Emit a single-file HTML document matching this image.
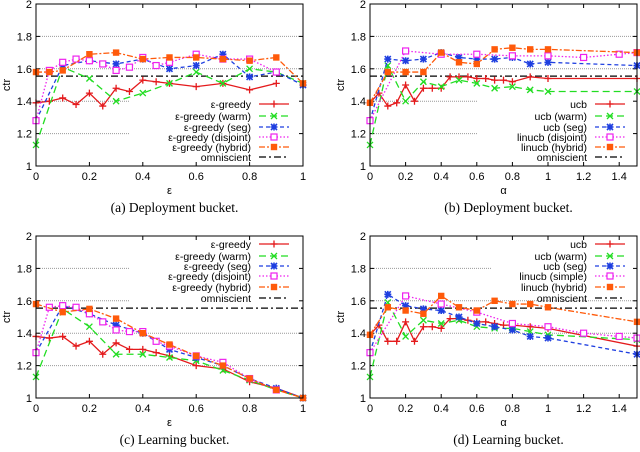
<!DOCTYPE html>
<html><head><meta charset="utf-8"><style>
body{margin:0;background:#fff;}
svg text{font-family:"Liberation Sans",sans-serif;}
svg text.cap{font-family:"Liberation Serif",serif;}
</style></head><body>
<svg id="fig" width="640" height="447" viewBox="0 0 640 447" xmlns="http://www.w3.org/2000/svg"></svg>
<script>
const yTicks=[1,1.2,1.4,1.6,1.8,2];
const yTickLabels=["1","1.2","1.4","1.6","1.8","2"];
const epsTicks=[0,0.2,0.4,0.6,0.8,1];
const epsTickLabels=["0","0.2","0.4","0.6","0.8","1"];
const alphaTicks=[0,0.2,0.4,0.6,0.8,1,1.2,1.4];
const alphaTickLabels=["0","0.2","0.4","0.6","0.8","1","1.2","1.4"];
const omniscient=1.555;

// Panel a
const aGreedyX=[0,0.05,0.1,0.15,0.2,0.25,0.3,0.35,0.4,0.45,0.5,0.6,0.7,0.8,0.9];
const aGreedyY=[1.39,1.40,1.42,1.38,1.45,1.37,1.48,1.46,1.53,1.52,1.51,1.49,1.51,1.47,1.51];
const aWarmX=[0,0.1,0.2,0.3,0.4,0.5,0.6,0.7,0.8,0.9,1];
const aWarmY=[1.13,1.61,1.54,1.40,1.45,1.51,1.58,1.51,1.60,1.58,1.51];
const aSegX=[0,0.1,0.2,0.3,0.4,0.5,0.6,0.7,0.8,0.9,1];
const aSegY=[1.28,1.62,1.65,1.63,1.66,1.60,1.62,1.69,1.55,1.58,1.50];
const aDisX=[0,0.05,0.1,0.15,0.2,0.25,0.3,0.35,0.4,0.45,0.5,0.6,0.7,0.8,0.9];
const aDisY=[1.28,1.59,1.64,1.66,1.65,1.63,1.59,1.61,1.67,1.62,1.64,1.69,1.66,1.66,1.58];
const aHybX=[0,0.05,0.1,0.2,0.3,0.4,0.5,0.6,0.7,0.8,0.9,1];
const aHybY=[1.58,1.58,1.59,1.69,1.70,1.66,1.67,1.67,1.66,1.65,1.67,1.51];
// Panel b
const bUcbX=[0,0.05,0.1,0.15,0.2,0.25,0.3,0.35,0.4,0.45,0.5,0.55,0.6,0.65,0.7,0.75,0.8,0.9,1,1.5];
const bUcbY=[1.39,1.45,1.37,1.39,1.50,1.40,1.48,1.48,1.48,1.55,1.55,1.55,1.54,1.54,1.53,1.53,1.52,1.55,1.54,1.54];
const bWarmX=[0,0.1,0.2,0.3,0.4,0.5,0.6,0.7,0.8,0.9,1,1.5];
const bWarmY=[1.13,1.62,1.40,1.52,1.49,1.53,1.51,1.48,1.49,1.47,1.46,1.46];
const bSegX=[0,0.1,0.2,0.3,0.4,0.5,0.6,0.7,0.8,0.9,1,1.5];
const bSegY=[1.28,1.66,1.65,1.66,1.70,1.67,1.66,1.66,1.67,1.63,1.64,1.62];
const bDisX=[0,0.2,0.4,0.6,0.8,1,1.2,1.4,1.5];
const bDisY=[1.28,1.71,1.69,1.69,1.68,1.68,1.67,1.69,1.70];
const bHybX=[0,0.1,0.2,0.3,0.4,0.5,0.6,0.7,0.8,0.9,1,1.5];
const bHybY=[1.39,1.58,1.58,1.58,1.70,1.64,1.63,1.72,1.73,1.72,1.72,1.70];
// Panel c
const cGreedyX=[0,0.05,0.1,0.15,0.2,0.25,0.3,0.35,0.4,0.45,0.5,0.6,0.7,0.8,0.9,1];
const cGreedyY=[1.38,1.37,1.38,1.32,1.35,1.27,1.34,1.30,1.30,1.28,1.26,1.20,1.18,1.10,1.06,1.0];
const cWarmX=[0,0.1,0.2,0.3,0.4,0.5,0.6,0.7,0.8,0.9,1];
const cWarmY=[1.13,1.55,1.44,1.27,1.27,1.25,1.23,1.17,1.11,1.05,1.0];
const cSegX=[0,0.1,0.2,0.3,0.4,0.5,0.6,0.7,0.8,0.9,1];
const cSegY=[1.28,1.57,1.52,1.45,1.40,1.30,1.25,1.20,1.12,1.06,1.0];
const cDisX=[0,0.05,0.1,0.15,0.2,0.25,0.3,0.35,0.4,0.45,0.5,0.6,0.7,0.8,0.9];
const cDisY=[1.28,1.56,1.57,1.56,1.52,1.47,1.42,1.41,1.41,1.35,1.32,1.26,1.22,1.12,1.05];
const cHybX=[0,0.1,0.2,0.3,0.4,0.5,0.6,0.7,0.8,0.9,1];
const cHybY=[1.58,1.53,1.55,1.49,1.40,1.33,1.26,1.20,1.12,1.05,1.0];
// Panel d
const dUcbX=[0,0.05,0.1,0.15,0.2,0.25,0.3,0.35,0.4,0.45,0.5,0.55,0.6,0.65,0.7,0.75,0.8,0.9,1,1.5];
const dUcbY=[1.39,1.45,1.35,1.35,1.47,1.35,1.44,1.44,1.43,1.49,1.49,1.48,1.47,1.47,1.46,1.45,1.45,1.44,1.43,1.32];
const dWarmX=[0,0.1,0.2,0.3,0.4,0.5,0.6,0.7,0.8,0.9,1,1.5];
const dWarmY=[1.13,1.59,1.38,1.48,1.46,1.48,1.44,1.43,1.43,1.41,1.39,1.36];
const dSegX=[0,0.1,0.2,0.3,0.4,0.5,0.6,0.7,0.8,0.9,1,1.5];
const dSegY=[1.28,1.64,1.57,1.55,1.54,1.50,1.46,1.44,1.42,1.38,1.37,1.27];
const dSimX=[0,0.2,0.4,0.6,0.8,1,1.2,1.4,1.5];
const dSimY=[1.28,1.63,1.58,1.53,1.46,1.44,1.40,1.38,1.37];
const dHybX=[0,0.1,0.2,0.3,0.4,0.5,0.6,0.7,0.8,0.9,1,1.5];
const dHybY=[1.39,1.56,1.54,1.52,1.63,1.56,1.54,1.60,1.58,1.58,1.56,1.47];

const NS="http://www.w3.org/2000/svg";
const svg=document.getElementById('fig');
function mk(tag,attrs,parent){const e=document.createElementNS(NS,tag);for(const k in attrs)e.setAttribute(k,attrs[k]);(parent||svg).appendChild(e);return e;}

const styles=[
 {c:"#e41a1c",dash:"",m:"plus"},
 {c:"#22dd22",dash:"7,4",m:"x"},
 {c:"#1f3fe0",dash:"4,3",m:"star"},
 {c:"#ee22ee",dash:"1.5,2",m:"osq"},
 {c:"#ff5a0a",dash:"6,2,2,2",m:"fsq"}
];

function marker(g,t,x,y,c){
  if(t==="plus"){mk('path',{d:`M${x-3.5} ${y}H${x+3.5}M${x} ${y-3.5}V${y+3.5}`,stroke:c,'stroke-width':1.3,fill:'none'},g);}
  else if(t==="x"){mk('path',{d:`M${x-3} ${y-3}L${x+3} ${y+3}M${x-3} ${y+3}L${x+3} ${y-3}`,stroke:c,'stroke-width':1.3,fill:'none'},g);}
  else if(t==="star"){mk('path',{d:`M${x-3} ${y-3}L${x+3} ${y+3}M${x-3} ${y+3}L${x+3} ${y-3}M${x-3.5} ${y}H${x+3.5}M${x} ${y-3.5}V${y+3.5}`,stroke:c,'stroke-width':1.6,fill:'none'},g);}
  else if(t==="osq"){mk('rect',{x:x-3,y:y-3,width:6,height:6,stroke:c,'stroke-width':1.2,fill:'#fff'},g);}
  else {mk('rect',{x:x-3.2,y:y-3.2,width:6.4,height:6.4,fill:c},g);}
}

function panel(p){
  const {x0,x1,y0,y1,xmax,xt,xtl,xlabel,cap,series,names,legRows,legTextX,grid,id}=p;
  const g=mk('g',{});
  
  
  const sx=v=>x0+(v/xmax)*(x1-x0);
  const sy=v=>y1-(v-1)*(y1-y0);
  yTicks.forEach((v,i)=>{
    if(v===1||v===2)return;
    const xe=grid[i]||x1;
    const l=mk('line',{x1:x0,x2:xe,y1:sy(v),y2:sy(v),stroke:'#999','stroke-width':1,'stroke-dasharray':'1,1'},g);
    
    
  });
  yTicks.forEach((v,i)=>{
    mk('line',{x1:x0,x2:x0+4,y1:sy(v),y2:sy(v),stroke:'#000'},g);
    mk('line',{x1:x1,x2:x1-4,y1:sy(v),y2:sy(v),stroke:'#000'},g);
    const t=mk('text',{x:x0-4,y:sy(v)+4,'font-size':11,'text-anchor':'end'},g);t.textContent=yTickLabels[i];
    
    
  });
  xt.forEach((v,i)=>{
    mk('line',{x1:sx(v),x2:sx(v),y1:y1,y2:y1-4,stroke:'#000'},g);
    mk('line',{x1:sx(v),x2:sx(v),y1:y0,y2:y0+4,stroke:'#000'},g);
    const t=mk('text',{x:sx(v),y:y1+14,'font-size':11,'text-anchor':'middle'},g);t.textContent=xtl[i];
    
    
  });
  const om=mk('line',{x1:x0,x2:x1,y1:sy(omniscient),y2:sy(omniscient),stroke:'#000','stroke-width':1.3,'stroke-dasharray':'7,3,2,3'},g);
  
  
  series.forEach((s,k)=>{
    const st=styles[k];
    const sg=mk('g',{},g);
    
    
    const pts=s[0].map((xv,i)=>sx(xv)+','+sy(s[1][i])).join(' ');
    mk('polyline',{points:pts,fill:'none',stroke:st.c,'stroke-width':1.3,'stroke-dasharray':st.dash},sg);
    s[0].forEach((xv,i)=>marker(sg,st.m,sx(xv),sy(s[1][i]),st.c));
  });
  const lg=mk('g',{},g);
  
  
  const all=names.concat(['omniscient']);
  all.forEach((n,i)=>{
    const y=legRows[i];
    const t=mk('text',{x:legTextX,y:y+4,'font-size':10.5,'text-anchor':'end'},lg);t.textContent=n;
    
    
    if(i<5){const st=styles[i];
      mk('line',{x1:legTextX+8,x2:legTextX+38,y1:y,y2:y,stroke:st.c,'stroke-width':1.3,'stroke-dasharray':st.dash},lg);
      marker(lg,st.m,legTextX+23,y,st.c);
    } else mk('line',{x1:legTextX+8,x2:legTextX+38,y1:y,y2:y,stroke:'#000','stroke-width':1.3,'stroke-dasharray':'7,3,2,3'},lg);
  });
  mk('rect',{x:x0,y:y0,width:x1-x0,height:y1-y0,fill:'none',stroke:'#000','stroke-width':1},g);
  const xl=mk('text',{x:(x0+x1)/2,y:y1+28,'font-size':11,'text-anchor':'middle'},g);xl.textContent=xlabel;
  
  
  const yl=mk('text',{x:0,y:0,'font-size':11,'text-anchor':'middle',transform:`translate(${x0-26},${(y0+y1)/2}) rotate(-90)`},g);yl.textContent='ctr';
  
  
  const c=mk('text',{x:(x0+x1)/2+5,y:y1+46,'font-size':13.5,'text-anchor':'middle','class':'cap'},g);c.textContent=cap;
  
  
}
const eNames=["ε-greedy","ε-greedy (warm)","ε-greedy (seg)","ε-greedy (disjoint)","ε-greedy (hybrid)"];
panel({id:'a',x0:36,x1:303,y0:4,y1:166,xmax:1,xt:epsTicks,xtl:epsTickLabels,xlabel:'ε',cap:'(a)  Deployment bucket.',
 series:[[aGreedyX,aGreedyY],[aWarmX,aWarmY],[aSegX,aSegY],[aDisX,aDisY],[aHybX,aHybY]],names:eNames,
 legRows:[104,116,127,137,147,157],legTextX:251,grid:[0,129,129,0,0]});
panel({id:'b',x0:370,x1:637,y0:4,y1:166,xmax:1.5,xt:alphaTicks,xtl:alphaTickLabels,xlabel:'α',cap:'(b)  Deployment bucket.',
 series:[[bUcbX,bUcbY],[bWarmX,bWarmY],[bSegX,bSegY],[bDisX,bDisY],[bHybX,bHybY]],names:["ucb","ucb (warm)","ucb (seg)","linucb (disjoint)","linucb (hybrid)"],
 legRows:[104,116,127,137,147,157],legTextX:587,grid:[0,477,477,0,0]});
panel({id:'c',x0:36,x1:303,y0:236,y1:398,xmax:1,xt:epsTicks,xtl:epsTickLabels,xlabel:'ε',cap:'(c)  Learning bucket.',
 series:[[cGreedyX,cGreedyY],[cWarmX,cWarmY],[cSegX,cSegY],[cDisX,cDisY],[cHybX,cHybY]],names:eNames,
 legRows:[244,256,266,276,287,298],legTextX:251,grid:[0,0,0,129,129]});
panel({id:'d',x0:370,x1:637,y0:236,y1:398,xmax:1.5,xt:alphaTicks,xtl:alphaTickLabels,xlabel:'α',cap:'(d)  Learning bucket.',
 series:[[dUcbX,dUcbY],[dWarmX,dWarmY],[dSegX,dSegY],[dSimX,dSimY],[dHybX,dHybY]],names:["ucb","ucb (warm)","ucb (seg)","linucb (simple)","linucb (hybrid)"],
 legRows:[244,256,266,276,287,298],legTextX:587,grid:[0,0,0,0,491]});
</script>
</body></html>
